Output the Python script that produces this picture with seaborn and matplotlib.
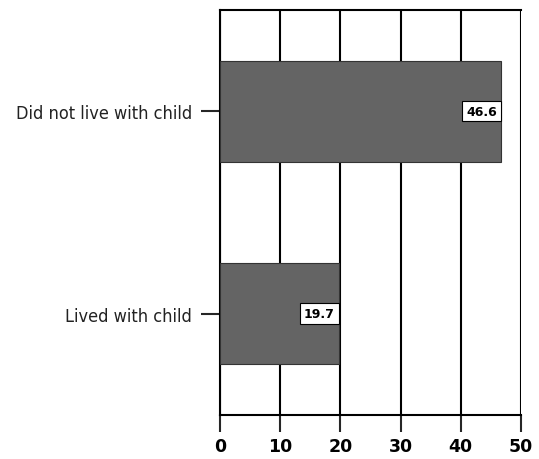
import pandas as pd
import matplotlib.pyplot as plt
import seaborn as sns

categories = ["Did not live with child", "Lived with child"]
values = [46.6, 19.7]
xticks = [0, 10, 20, 30, 40, 50]

df = pd.DataFrame({"group": categories, "pct": values})

sns.set_style("white")
fig = plt.figure(figsize=(5.39, 4.6), dpi=100)
ax = fig.add_axes([0.408, 0.0957, 0.5586, 0.8804])

sns.barplot(data=df, x="pct", y="group", orient="h", color="#646464",
            width=0.5, edgecolor="#333333", linewidth=0.8, ax=ax, zorder=3)

ax.set_xlim(0, 50)
ax.set_ylim(1.5, -0.5)
ax.set_xticks(xticks)
ax.set_xticklabels([str(t) for t in xticks], fontsize=12.5, fontweight="heavy",
                   family="DejaVu Sans", color="black")
ax.grid(axis="x", color="black", linewidth=1.5, zorder=0)
ax.set_axisbelow(True)
for side in ["left", "bottom", "top"]:
    ax.spines[side].set_visible(True)
    ax.spines[side].set_color("black")
    ax.spines[side].set_linewidth(1.5)
ax.spines["right"].set_visible(False)

ax.tick_params(axis="x", direction="out", length=12, width=1.5, pad=4, bottom=True)
ax.tick_params(axis="y", direction="out", length=14, width=1.5, pad=6, left=True)
for lbl in ax.get_yticklabels():
    lbl.set_fontsize(13)
    lbl.set_fontstretch("condensed")
    lbl.set_family("DejaVu Sans")
    lbl.set_color("#222222")

ax.set_xlabel("")
ax.set_ylabel("")

for i, v in enumerate(values):
    ax.text(v - 0.6, i, f"{v}", ha="right", va="center", fontsize=9,
            fontweight="bold", zorder=5, color="black",
            bbox=dict(boxstyle="square,pad=0.3", facecolor="white",
                      edgecolor="black", linewidth=0.8))

fig.savefig("out.png", dpi=100)
